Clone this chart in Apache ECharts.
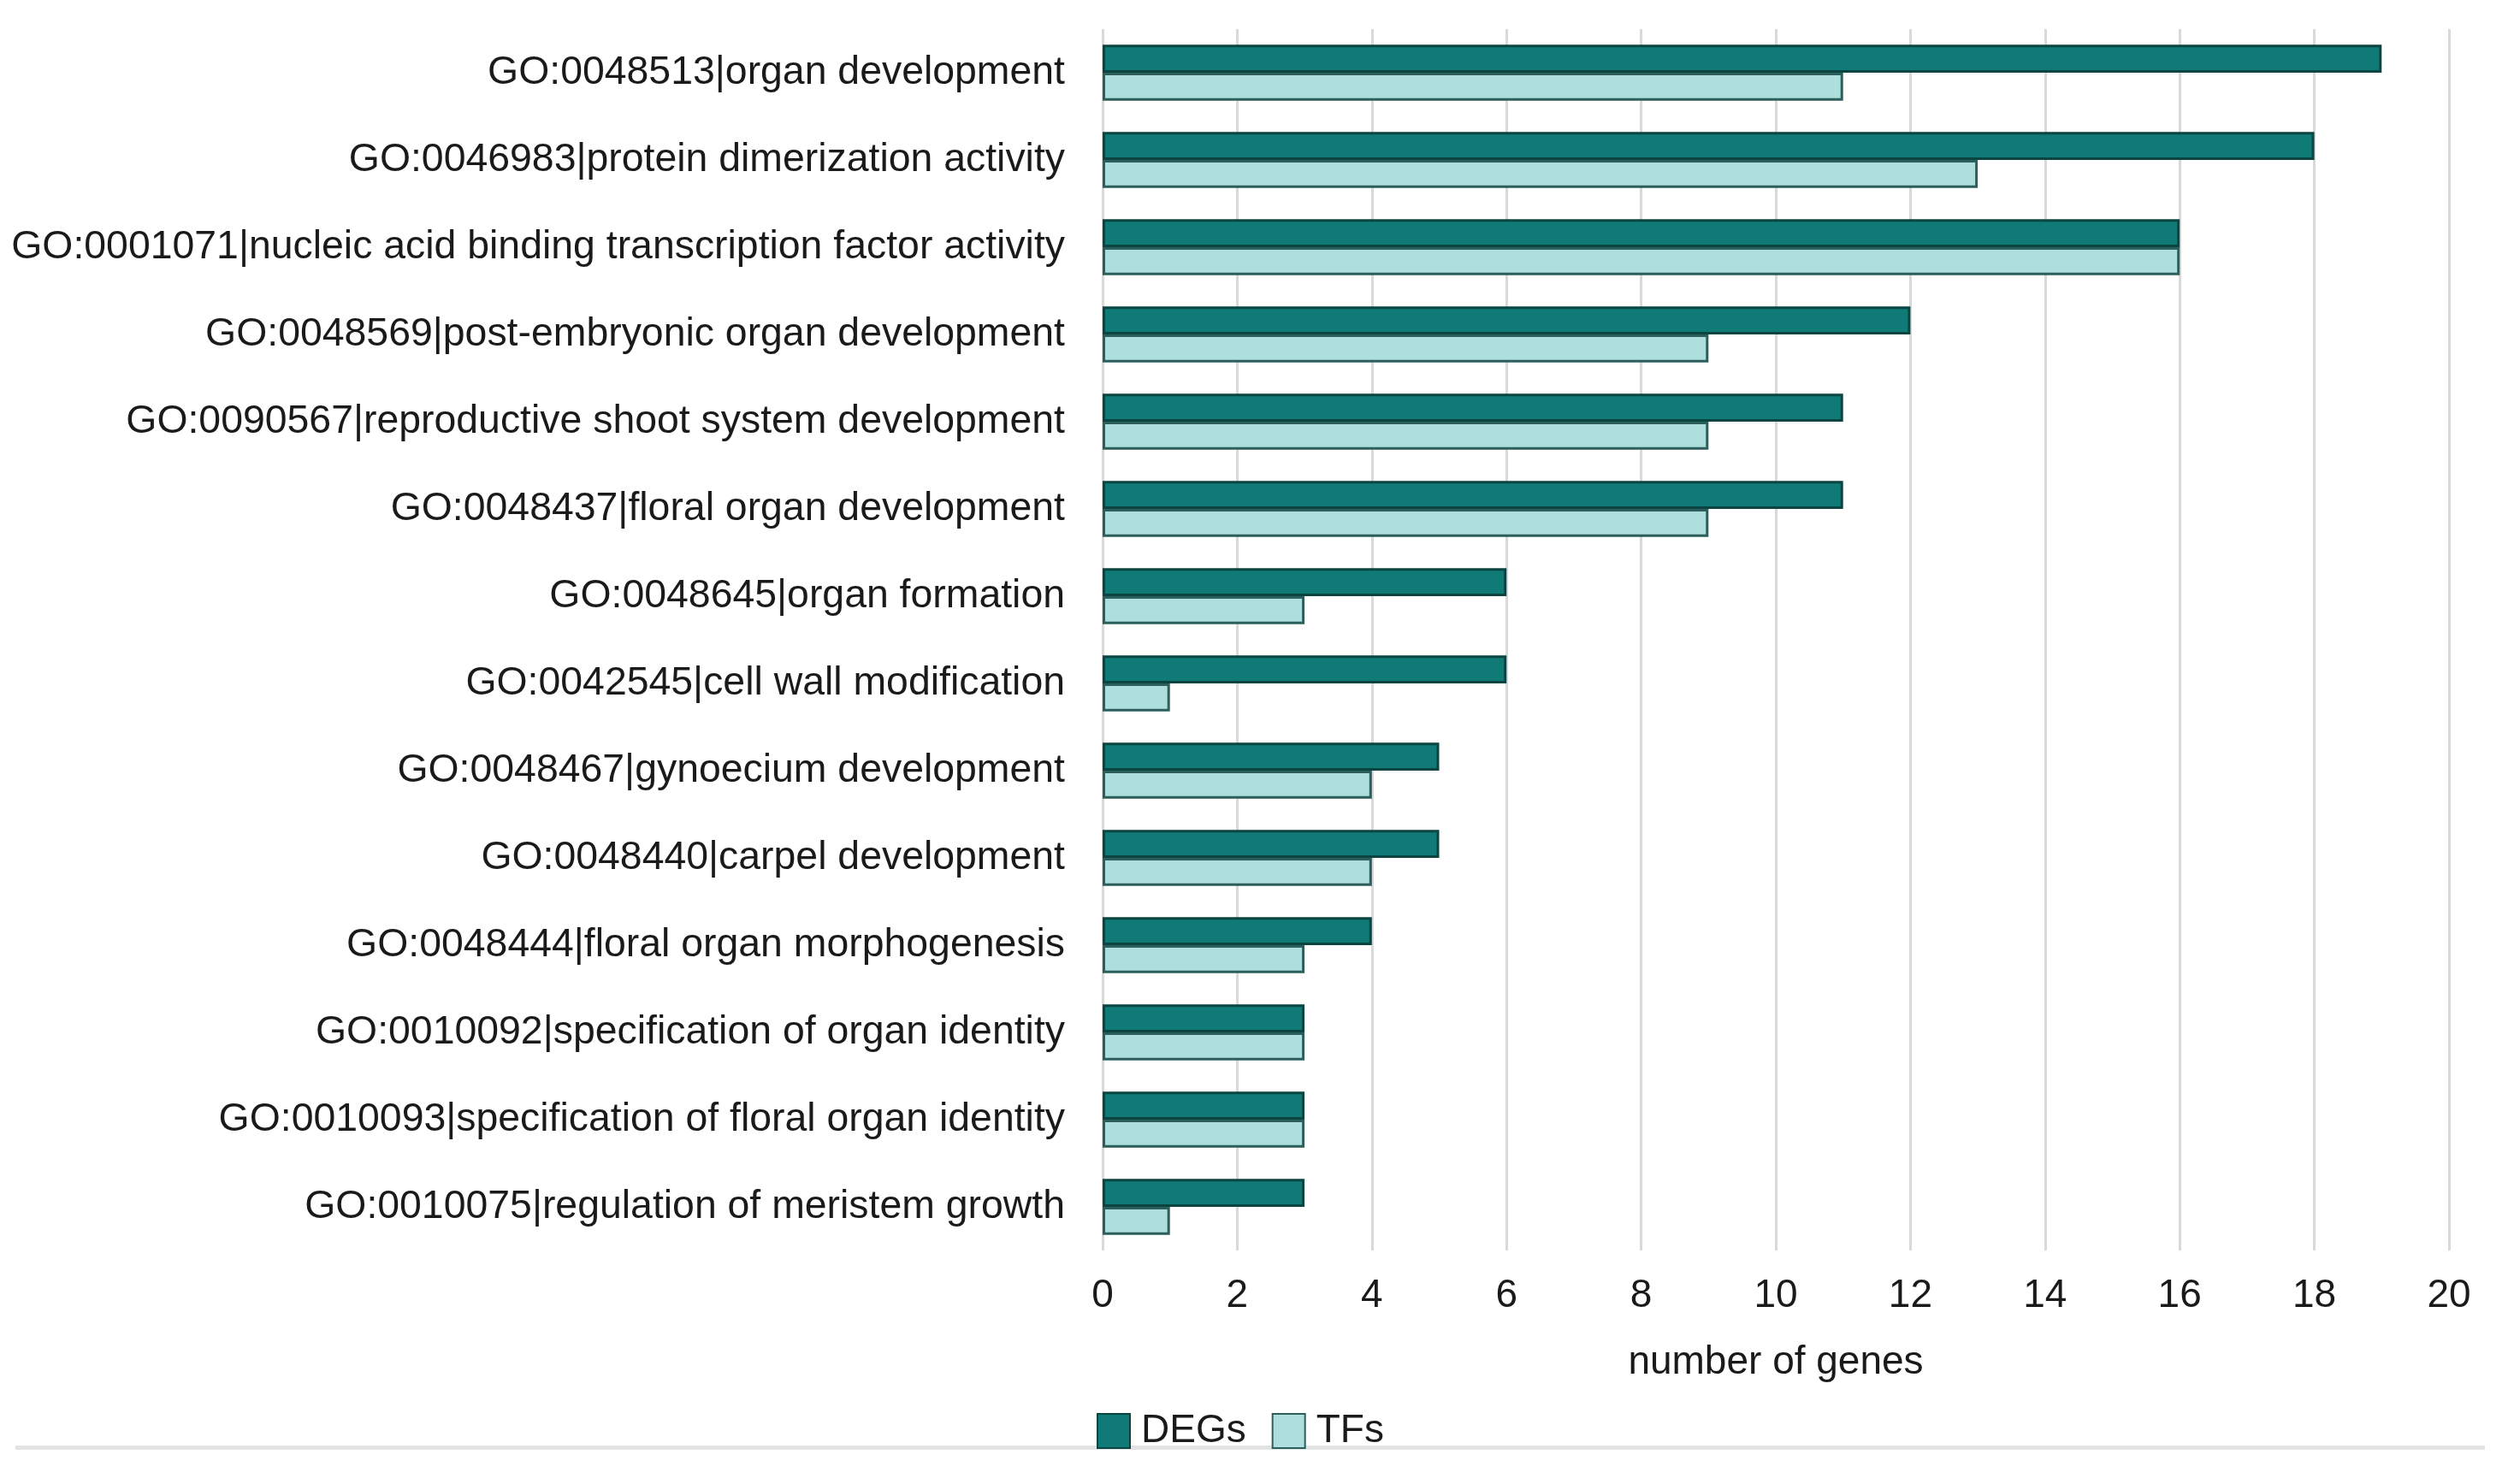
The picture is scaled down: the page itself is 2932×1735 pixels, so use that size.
<!DOCTYPE html>
<html>
<head>
<meta charset="utf-8">
<script src="https://cdn.jsdelivr.net/npm/echarts@6/dist/echarts.min.js"></script>
<style>
html,body{margin:0;padding:0;background:#fff;}
#chart{width:2932px;height:1735px;}
</style>
</head>
<body>
<div id="chart"></div>
<script>
const categories = [
  "GO:0048513|organ development",
  "GO:0046983|protein dimerization activity",
  "GO:0001071|nucleic acid binding transcription factor activity",
  "GO:0048569|post-embryonic organ development",
  "GO:0090567|reproductive shoot system development",
  "GO:0048437|floral organ development",
  "GO:0048645|organ formation",
  "GO:0042545|cell wall modification",
  "GO:0048467|gynoecium development",
  "GO:0048440|carpel development",
  "GO:0048444|floral organ morphogenesis",
  "GO:0010092|specification of organ identity",
  "GO:0010093|specification of floral organ identity",
  "GO:0010075|regulation of meristem growth"
];
const degs = [19, 18, 16, 12, 11, 11, 6, 6, 5, 5, 4, 3, 3, 3];
const tfs  = [11, 13, 16, 9, 9, 9, 3, 1, 4, 4, 3, 3, 3, 1];
const seriesNames = ["DEGs", "TFs"];
const xTicks = { min: 0, max: 20, interval: 2 };
const axisTitle = "number of genes";

const chart = echarts.init(document.getElementById('chart'), null, {renderer: 'canvas'});
const font = "'Liberation Sans', Arial, sans-serif";
chart.setOption({
  animation: false,
  backgroundColor: '#ffffff',
  textStyle: { fontFamily: font },
  grid: { left: 1289, right: 69, top: 34, bottom: 273, containLabel: false },
  xAxis: {
    type: 'value', min: xTicks.min, max: xTicks.max, interval: xTicks.interval,
    name: axisTitle, nameLocation: 'middle', nameGap: 108,
    nameTextStyle: { fontSize: 46, color: '#1a1a1a', fontFamily: font },
    axisLine: { show: false }, axisTick: { show: false },
    axisLabel: { fontSize: 46, color: '#1a1a1a', margin: 30, fontFamily: font },
    splitLine: { show: true, lineStyle: { color: '#d9d9d9', width: 3 } }
  },
  yAxis: {
    type: 'category', data: categories, inverse: true,
    axisLine: { show: false }, axisTick: { show: false },
    axisLabel: { fontSize: 46.4, color: '#1a1a1a', margin: 44, fontFamily: font },
    splitLine: { show: false }
  },
  legend: {
    left: 1277, top: 1645, itemWidth: 38, itemHeight: 40, itemGap: 30,
    icon: 'rect',
    data: seriesNames,
    textStyle: { fontSize: 46, color: '#1a1a1a', fontFamily: font, padding: [0, 0, 0, 8] }
  },
  series: [
    {
      name: seriesNames[0], type: 'bar', data: degs,
      barGap: '0%', barCategoryGap: '36%',
      itemStyle: { color: '#0f7a76', borderColor: '#0a4542', borderWidth: 3 }
    },
    {
      name: seriesNames[1], type: 'bar', data: tfs,
      barGap: '0%', barCategoryGap: '36%',
      itemStyle: { color: '#aedfdd', borderColor: '#2c5e5b', borderWidth: 3 }
    }
  ],
  graphic: [
    { type: 'rect', shape: { x: 18, y: 1690, width: 2887, height: 5 }, style: { fill: '#e3e3e3' }, silent: true }
  ]
});
</script>
</body>
</html>
